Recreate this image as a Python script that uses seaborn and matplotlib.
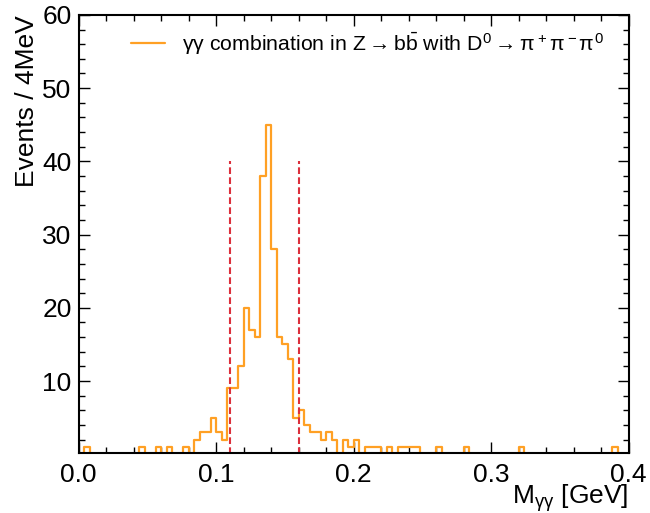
import matplotlib
matplotlib.use("Agg")
import matplotlib.pyplot as plt
import numpy as np
import pandas as pd
import seaborn as sns
from matplotlib.ticker import MultipleLocator

# M_gg histogram, 4 MeV bins from 0 to 0.4 GeV (100 bins); only non-empty bins listed
bin_index = [1, 11, 14, 16, 19,
             21, 22, 23, 24, 25, 26, 27, 28, 29,
             30, 31, 32, 33, 34, 35, 36, 37, 38, 39,
             40, 41, 42, 43, 44, 45, 46, 48, 49, 50,
             52, 53, 54, 56, 58, 59, 60, 61, 65, 70, 80, 97]
bin_counts = [1, 1, 1, 1, 1,
              2, 3, 3, 5, 3, 2, 9, 9, 12,
              20, 17, 16, 38, 45, 28, 16, 15, 13, 5,
              6, 4, 3, 3, 2, 3, 2, 2, 1, 2,
              1, 1, 1, 1, 1, 1, 1, 1, 1, 1, 1, 1]
n_bins = 100
bin_width = 0.004
x_range = (0.0, 0.4)
window = [0.11, 0.16]
window_height = 40

counts = np.zeros(n_bins)
counts[bin_index] = bin_counts
df = pd.DataFrame({
    "mgg": x_range[0] + (np.arange(n_bins) + 0.5) * bin_width,
    "n": counts,
})

sns.set_style("ticks")
plt.rcParams["font.family"] = ["Liberation Sans", "DejaVu Sans"]
plt.rcParams["mathtext.fontset"] = "custom"
plt.rcParams["mathtext.rm"] = "Liberation Sans"
plt.rcParams["mathtext.it"] = "Liberation Sans"
plt.rcParams["mathtext.bf"] = "Liberation Sans:bold"
for key in ["text.color", "axes.labelcolor", "xtick.color", "ytick.color", "axes.edgecolor"]:
    plt.rcParams[key] = "black"

fig = plt.figure(figsize=(6.5, 5.13), dpi=100)
ax = fig.add_axes([0.1208, 0.117, 0.8462, 0.854])

sns.histplot(data=df, x="mgg", weights="n", binwidth=bin_width, binrange=x_range,
             element="step", fill=False, color="#ffa024", linewidth=1.6, ax=ax,
             label=r"$\gamma\gamma$ combination in Z$\rightarrow$b$\bar{\rm b}$ with D$^0\rightarrow\pi^+\pi^-\pi^0$")
ax.vlines(window, 0, window_height, colors="#dc2f3c", linestyles=(0, (3.2, 1.6)),
          linewidth=1.5)

ax.set_xlim(*x_range)
ax.set_ylim(0.18, 60)
ax.xaxis.set_major_locator(MultipleLocator(0.1))
ax.xaxis.set_minor_locator(MultipleLocator(0.02))
ax.yaxis.set_major_locator(MultipleLocator(10))
ax.yaxis.set_minor_locator(MultipleLocator(2))
ax.tick_params(which="both", direction="in", top=True, right=True, labelsize=19, width=1)
ax.tick_params(which="major", length=8)
ax.tick_params(which="minor", length=4)
ax.tick_params(axis="x", pad=7)
ax.tick_params(axis="y", pad=5)
for s in ax.spines.values():
    s.set_linewidth(1.5)

ax.set_xlabel(r"M$_{\gamma\gamma}$ [GeV]", fontsize=19, ha="right", x=1.0, labelpad=-3)
ax.set_ylabel("Events / 4MeV", fontsize=19, ha="right", y=1.0, labelpad=2)

ax.legend(loc="upper right", frameon=False, fontsize=15.3, handlelength=1.6,
          bbox_to_anchor=(0.99, 1.01))

fig.savefig("out.png", dpi=100)
